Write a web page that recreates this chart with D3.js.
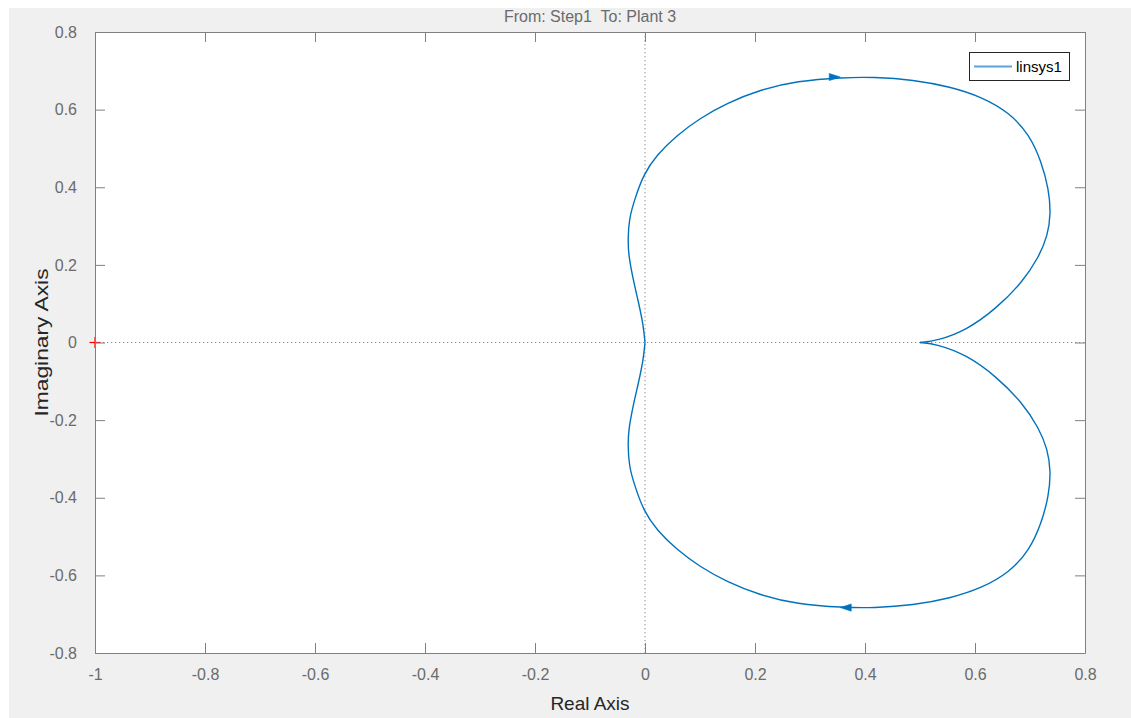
<!DOCTYPE html>
<html>
<head>
<meta charset="utf-8">
<script src="https://cdn.jsdelivr.net/npm/d3@7"></script>
<style>
  html, body { margin: 0; padding: 0; background: #ffffff; }
  svg { display: block; font-family: "Liberation Sans", Arial, Helvetica, sans-serif; }
  text { white-space: pre; }
</style>
</head>
<body>
<svg id="chart" width="1131" height="718"></svg>
<script>
// ---- data ----
const titleText = "From: Step1  To: Plant 3";
const xLabelText = "Real Axis";
const yLabelText = "Imaginary Axis";
const legendLabel = "linsys1";
const xTicks = [-1, -0.8, -0.6, -0.4, -0.2, 0, 0.2, 0.4, 0.6, 0.8];
const yTicks = [-0.8, -0.6, -0.4, -0.2, 0, 0.2, 0.4, 0.6, 0.8];
const xTickLabels = ["-1", "-0.8", "-0.6", "-0.4", "-0.2", "0", "0.2", "0.4", "0.6", "0.8"];
const yTickLabels = ["-0.8", "-0.6", "-0.4", "-0.2", "0", "0.2", "0.4", "0.6", "0.8"];
const xDomain = [-1, 0.8];
const yDomain = [-0.8, 0.8];

// positive-frequency branch G(jw), w increasing (from 0.5 to the origin)
const posRe = [0.500, 0.500, 0.530, 0.585, 0.639, 0.686, 0.716, 0.732, 0.738, 0.734, 0.721, 0.699, 0.663,
               0.612, 0.555, 0.488, 0.415, 0.361, 0.276, 0.209, 0.149, 0.100, 0.058, 0.021, -0.003,
               -0.018, -0.029, -0.031, -0.030, -0.022, -0.012, -0.003, 0.000, 0.000];
const posIm = [0.000, 0.000, -0.004, -0.032, -0.088, -0.155, -0.220, -0.275, -0.332, -0.395, -0.465, -0.535, -0.592,
               -0.633, -0.659, -0.677, -0.684, -0.683, -0.674, -0.651, -0.617, -0.578, -0.534, -0.483, -0.432,
               -0.372, -0.320, -0.265, -0.226, -0.165, -0.105, -0.045, 0.000, 0.000];
// direction arrows: tip position and direction (+1 right, -1 left)
const arrowRe = [0.355, 0.355];
const arrowIm = [0.684, -0.683];
const arrowDir = [1, -1];
// critical point
const critRe = [-1];
const critIm = [0];

// ---- layout ----
const W = 1131, H = 718;
const plot = { left: 95, top: 32, right: 1085, bottom: 653 };
const svg = d3.select("#chart");

// figure background
svg.append("rect").attr("x", 9).attr("y", 8).attr("width", W - 9).attr("height", H - 8).attr("fill", "#f0f0f0");

const x = d3.scaleLinear().domain(xDomain).range([plot.left, plot.right]);
const y = d3.scaleLinear().domain(yDomain).range([plot.bottom, plot.top]);

// plot area
svg.append("rect").attr("x", plot.left).attr("y", plot.top)
  .attr("width", plot.right - plot.left).attr("height", plot.bottom - plot.top).attr("fill", "#ffffff");

// zero lines (dotted)
const g = svg.append("g");
g.append("line").attr("x1", x(0)).attr("x2", x(0)).attr("y1", plot.top).attr("y2", plot.bottom)
  .attr("stroke", "#8c8c8c").attr("stroke-width", 1).attr("stroke-dasharray", "1.3,2.7");
g.append("line").attr("x1", plot.left).attr("x2", plot.right).attr("y1", y(0)).attr("y2", y(0))
  .attr("stroke", "#8c8c8c").attr("stroke-width", 1).attr("stroke-dasharray", "1.3,2.7");

// curve: positive branch + conjugate (negative frequency) branch
const pos = posRe.map((r, i) => [r, posIm[i]]);
const neg = pos.map(p => [p[0], -p[1]]);
const line = d3.line().x(d => x(d[0])).y(d => y(d[1])).curve(d3.curveBasis);
const curveColor = "#0072BD";
[pos, neg].forEach(br => {
  g.append("path").attr("d", line(br)).attr("fill", "none")
    .attr("stroke", curveColor).attr("stroke-width", 1.4).attr("stroke-linejoin", "round");
});

// arrows
arrowRe.forEach((r, i) => {
  const tx = x(r), ty = y(arrowIm[i]), d = arrowDir[i];
  const L = 11, hw = 3.6;
  g.append("path")
    .attr("d", `M${tx},${ty} L${tx - d * L},${ty - hw} L${tx - d * L},${ty + hw} Z`)
    .attr("fill", curveColor).attr("stroke", curveColor).attr("stroke-width", 0.6);
});

// critical point (red +)
critRe.forEach((r, i) => {
  const cx = x(r), cy = y(critIm[i]), s = 5.5;
  g.append("line").attr("x1", cx - s).attr("x2", cx + s).attr("y1", cy).attr("y2", cy).attr("stroke", "#ff0000").attr("stroke-width", 1.2);
  g.append("line").attr("x1", cx).attr("x2", cx).attr("y1", cy - s).attr("y2", cy + s).attr("stroke", "#ff0000").attr("stroke-width", 1.2);
});

// axes (box with inward ticks on all four sides)
const axisColor = "#808080";
const tickLabelColor = "#6b6b6b";
const tickLen = 10;
const axB = d3.axisBottom(x).tickValues(xTicks).tickSizeInner(-tickLen).tickSizeOuter(0)
  .tickFormat((d, i) => xTickLabels[i]).tickPadding(16);
const axT = d3.axisTop(x).tickValues(xTicks).tickSizeInner(-tickLen).tickSizeOuter(0).tickFormat("");
const axL = d3.axisLeft(y).tickValues(yTicks).tickSizeInner(-tickLen).tickSizeOuter(0)
  .tickFormat((d, i) => yTickLabels[i]).tickPadding(18);
const axR = d3.axisRight(y).tickValues(yTicks).tickSizeInner(-tickLen).tickSizeOuter(0).tickFormat("");

function style(sel) {
  sel.select(".domain").attr("stroke", axisColor).attr("stroke-width", 1);
  sel.selectAll(".tick line").attr("stroke", axisColor).attr("stroke-width", 1);
  sel.selectAll(".tick text").attr("fill", tickLabelColor)
    .style("font-size", "16px").style("font-family", "'Liberation Sans', Arial, sans-serif");
}
svg.append("g").attr("transform", `translate(0,${plot.bottom})`).call(axB).call(style);
svg.append("g").attr("transform", `translate(0,${plot.top})`).call(axT).call(style);
svg.append("g").attr("transform", `translate(${plot.left},0)`).call(axL).call(style);
svg.append("g").attr("transform", `translate(${plot.right},0)`).call(axR).call(style);

// title and labels
svg.append("text").attr("x", (plot.left + plot.right) / 2).attr("y", 22)
  .attr("text-anchor", "middle").attr("fill", "#6b6b6b").style("font-size", "16px").text(titleText);
svg.append("text").attr("x", (plot.left + plot.right) / 2).attr("y", 710)
  .attr("text-anchor", "middle").attr("fill", "#262626").style("font-size", "19px").text(xLabelText);
svg.append("text").attr("transform", `translate(48,${(plot.top + plot.bottom) / 2}) rotate(-90) scale(1.2,1)`)
  .attr("text-anchor", "middle").attr("fill", "#262626").style("font-size", "19px").text(yLabelText);

// legend
const lg = svg.append("g");
lg.append("rect").attr("x", 969.5).attr("y", 52.5).attr("width", 100).attr("height", 28)
  .attr("fill", "#ffffff").attr("stroke", "#262626").attr("stroke-width", 1);
lg.append("line").attr("x1", 974).attr("x2", 1012).attr("y1", 66.5).attr("y2", 66.5)
  .attr("stroke", "#5aa3dc").attr("stroke-width", 2);
lg.append("text").attr("x", 1016).attr("y", 72).attr("fill", "#000000")
  .style("font-size", "15px").text(legendLabel);
</script>
</body>
</html>
